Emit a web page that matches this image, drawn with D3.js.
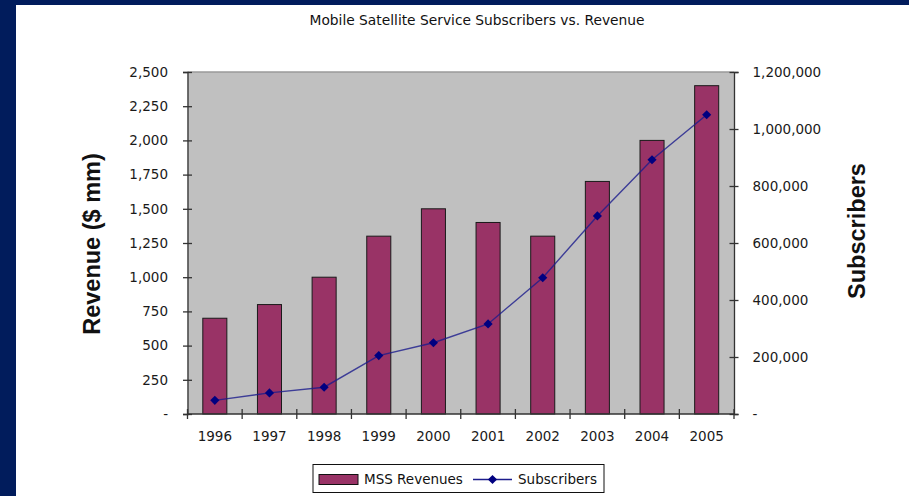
<!DOCTYPE html>
<html>
<head>
<meta charset="utf-8">
<script src="https://cdn.jsdelivr.net/npm/d3@7/dist/d3.min.js"></script>
<style>
  html, body { margin: 0; padding: 0; background: #011c5c; }
  svg { display: block; }
  .tick text { font-family: "DejaVu Sans", Verdana, sans-serif; font-size: 13.5px; fill: #1a1a1a; }
</style>
</head>
<body>
<svg id="chart" width="909" height="496"></svg>
<script>
// Mobile satellite service: annual revenue ($ mm) and subscriber counts
const years = ["1996", "1997", "1998", "1999", "2000", "2001", "2002", "2003", "2004", "2005"];
const revenues = [700, 800, 1000, 1300, 1500, 1400, 1300, 1700, 2000, 2400];
const subscribers = [48000, 74000, 94000, 205000, 250000, 316000, 478000, 695000, 892000, 1050000];
const revenueTicks = [0, 250, 500, 750, 1000, 1250, 1500, 1750, 2000, 2250, 2500];
const subscriberTicks = [0, 200000, 400000, 600000, 800000, 1000000, 1200000];

const W = 909, H = 496;
const plot = { left: 187.5, right: 734, top: 72, bottom: 414 };

const svg = d3.select("#chart");

// navy slide frame with white panel
svg.append("rect").attr("width", W).attr("height", H).attr("fill", "#011c5c");
svg.append("rect").attr("x", 16).attr("y", 5).attr("width", W - 16).attr("height", H - 5).attr("fill", "#ffffff");

// title
svg.append("text")
  .attr("x", 477).attr("y", 25)
  .attr("text-anchor", "middle")
  .attr("textLength", 335).attr("lengthAdjust", "spacingAndGlyphs")
  .style("font-family", "'DejaVu Sans', Verdana, sans-serif")
  .style("font-size", "13.5px")
  .attr("fill", "#111")
  .text("Mobile Satellite Service Subscribers vs. Revenue");

const x = d3.scaleBand().domain(years).range([plot.left, plot.right])
  .paddingInner(0.56).paddingOuter(0.28);
const yL = d3.scaleLinear().domain([0, 2500]).range([plot.bottom, plot.top]);
const yR = d3.scaleLinear().domain([0, 1200000]).range([plot.bottom, plot.top]);

// plot area
svg.append("rect")
  .attr("x", plot.left).attr("y", plot.top)
  .attr("width", plot.right - plot.left).attr("height", plot.bottom - plot.top)
  .attr("fill", "#c0c0c0");
svg.append("line")
  .attr("x1", plot.left).attr("x2", plot.right)
  .attr("y1", plot.top).attr("y2", plot.top)
  .attr("stroke", "#9a9a9a").attr("stroke-width", 1.5);

// revenue bars
svg.append("g").selectAll("rect").data(years).join("rect")
  .attr("x", d => x(d))
  .attr("y", (d, i) => yL(revenues[i]))
  .attr("width", x.bandwidth())
  .attr("height", (d, i) => yL(0) - yL(revenues[i]))
  .attr("fill", "#993366")
  .attr("stroke", "#1a1a1a").attr("stroke-width", 1);

// subscribers line
const cx = d => x(d) + x.bandwidth() / 2;
const line = d3.line().x((d, i) => cx(years[i])).y(d => yR(d));
svg.append("path").datum(subscribers)
  .attr("d", line)
  .attr("fill", "none")
  .attr("stroke", "#1c1c8c").attr("stroke-opacity", 0.8).attr("stroke-width", 1.4);
const diamond = d3.symbol(d3.symbolSquare, 42);
svg.append("g").selectAll("path").data(subscribers).join("path")
  .attr("d", diamond)
  .attr("transform", (d, i) => `translate(${cx(years[i])},${yR(d)}) rotate(45)`)
  .attr("fill", "#000080");

// left axis with crossing ticks
const fmt = d3.format(",");
const gL = svg.append("g").attr("transform", `translate(${plot.left},0)`)
  .call(d3.axisLeft(yL).tickValues(revenueTicks).tickSize(4.5).tickPadding(15)
    .tickFormat(d => d === 0 ? "-" : fmt(d)));
gL.selectAll(".tick line").attr("x2", -4.5).attr("x1", 4.5);
gL.select(".domain").attr("stroke", "#333").attr("stroke-width", 1.3);
gL.selectAll(".tick line").attr("stroke", "#333").attr("stroke-width", 1.3);

// right axis
const gR = svg.append("g").attr("transform", `translate(${plot.right},0)`)
  .call(d3.axisRight(yR).tickValues(subscriberTicks).tickSize(4.5).tickPadding(14)
    .tickFormat(d => d === 0 ? "-" : fmt(d)));
gR.selectAll(".tick line").attr("x1", -4.5).attr("x2", 4.5);
gR.select(".domain").attr("stroke", "#333").attr("stroke-width", 1.3);
gR.selectAll(".tick line").attr("stroke", "#333").attr("stroke-width", 1.3);

// bottom axis: labels centred on bands, ticks between categories
const gB = svg.append("g").attr("transform", `translate(0,${plot.bottom})`)
  .call(d3.axisBottom(x).tickSize(0).tickPadding(17));
gB.select(".domain").attr("stroke", "#333").attr("stroke-width", 1.3)
  .attr("d", `M${plot.left},0H${plot.right}`);
const bounds = years.map(d => x(d) - (x.step() - x.bandwidth()) / 2);
bounds.push(plot.right);
gB.selectAll("line.divider").data(bounds).join("line")
  .attr("class", "divider")
  .attr("x1", d => d).attr("x2", d => d)
  .attr("y1", -5).attr("y2", 5)
  .attr("stroke", "#333").attr("stroke-width", 1.3);

// axis titles
svg.append("text")
  .attr("transform", "translate(100,244) rotate(-90)")
  .attr("text-anchor", "middle")
  .style("font-family", "'Liberation Sans', Arial, sans-serif")
  .style("font-weight", "bold").style("font-size", "23.5px")
  .attr("fill", "#111")
  .text("Revenue ($ mm)");
svg.append("text")
  .attr("transform", "translate(865,231) rotate(-90)")
  .attr("text-anchor", "middle")
  .style("font-family", "'Liberation Sans', Arial, sans-serif")
  .style("font-weight", "bold").style("font-size", "23.5px")
  .attr("fill", "#111")
  .text("Subscribers");

// legend
const lg = svg.append("g");
lg.append("rect").attr("x", 313).attr("y", 464.5).attr("width", 291).attr("height", 28)
  .attr("fill", "#fff").attr("stroke", "#111").attr("stroke-width", 1);
lg.append("rect").attr("x", 319).attr("y", 474.5).attr("width", 39).attr("height", 10)
  .attr("fill", "#993366").attr("stroke", "#111").attr("stroke-width", 1);
lg.append("text").attr("x", 364).attr("y", 484)
  .style("font-family", "'DejaVu Sans', Verdana, sans-serif").style("font-size", "13.5px")
  .attr("fill", "#111").text("MSS Revenues");
lg.append("line").attr("x1", 473).attr("x2", 512).attr("y1", 479.5).attr("y2", 479.5)
  .attr("stroke", "#1c1c8c").attr("stroke-width", 1.4);
lg.append("path").attr("d", diamond)
  .attr("transform", "translate(492.5,479.5) rotate(45)").attr("fill", "#000080");
lg.append("text").attr("x", 518).attr("y", 484)
  .style("font-family", "'DejaVu Sans', Verdana, sans-serif").style("font-size", "13.5px")
  .attr("fill", "#111").text("Subscribers");
</script>
</body>
</html>
